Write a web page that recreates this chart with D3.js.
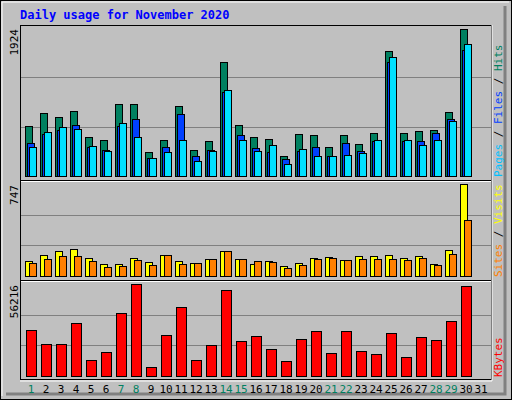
<!DOCTYPE html>
<html><head><meta charset="utf-8">
<script src="https://cdn.jsdelivr.net/npm/d3@7"></script>
<style>body{margin:0;background:#fff}text{font-family:"DejaVu Sans Mono",monospace}</style>
</head><body><div id="chart"></div>
<script>
var days = d3.range(1, 32);
var weekend = [1, 7, 8, 14, 15, 21, 22, 28, 29];
var hits  = [650, 819, 767, 845, 507, 468, 936, 936, 312, 468, 910, 338, 455, 1482, 663, 507, 481, 260, 546, 533, 377, 533, 416, 559, 1625, 559, 585, 598, 832, 1911];
var files = [429, 546, 598, 663, 377, 338, 650, 741, 234, 377, 806, 260, 338, 1092, 533, 364, 312, 221, 325, 377, 260, 429, 325, 455, 1482, 455, 455, 559, 741, 1638];
var pages = [377, 572, 637, 611, 390, 325, 689, 507, 234, 312, 468, 195, 325, 1118, 468, 325, 403, 156, 351, 260, 260, 273, 299, 468, 1547, 468, 403, 468, 715, 1716];
var visits = [124, 173, 205, 221, 148, 100, 100, 148, 116, 173, 124, 108, 140, 205, 140, 100, 124, 84, 108, 148, 156, 132, 164, 164, 173, 148, 164, 100, 213, 747];
var sites  = [108, 140, 164, 164, 124, 76, 84, 132, 92, 173, 100, 108, 140, 205, 140, 124, 116, 67, 92, 140, 148, 132, 140, 140, 140, 132, 148, 92, 181, 456];
var kbytes = [28309, 19692, 19692, 32613, 9846, 14769, 38766, 56011, 5538, 25232, 42459, 9846, 19077, 52318, 21538, 24616, 16615, 9231, 22770, 27694, 14154, 27694, 15385, 13539, 26463, 11693, 24000, 22154, 33844, 54780];
var yTicks = {top: 1924, mid: 747, bot: 56216};

var width = 512, height = 400;
var svg = d3.select("#chart").append("svg").attr("width", width).attr("height", height);

// outer frame
svg.append("rect").attr("x", 0.5).attr("y", 0.5).attr("width", 511).attr("height", 399)
    .attr("fill", "#c0c0c0").attr("stroke", "#000");
svg.append("path").attr("d", "M505,6 L505,394 L6,394").attr("fill", "none").attr("stroke", "#808080").attr("stroke-width", 3);
svg.append("path").attr("d", "M2,396 L2,2 L509,2").attr("fill", "none").attr("stroke", "#fff").attr("stroke-width", 1);

svg.append("text").attr("x", 20).attr("y", 19).attr("fill", "#0000ff")
    .attr("font-size", 12).attr("font-weight", "bold").text("Daily usage for November 2020");

var x = d3.scaleLinear().domain([1, 2]).range([25, 40]);

// panel frame
svg.append("rect").attr("x", 20.5).attr("y", 25.5).attr("width", 471).attr("height", 354)
    .attr("fill", "none").attr("stroke", "#000");
svg.append("path").attr("d", "M492,25 L492,381 L20,381").attr("fill", "none").attr("stroke", "#fff");
[180, 280].forEach(function(y) {
    svg.append("line").attr("x1", 21).attr("x2", 491).attr("y1", y + 0.5).attr("y2", y + 0.5).attr("stroke", "#000");
    svg.append("line").attr("x1", 21).attr("x2", 491).attr("y1", y + 1.5).attr("y2", y + 1.5).attr("stroke", "#fff");
});

function panel(top, base, max, series, label, legend) {
    var y = d3.scaleLinear().domain([0, max]).range([base, top]);
    var g = svg.append("g");
    [max / 3, max * 2 / 3].forEach(function(v) {
        g.append("line").attr("x1", 21).attr("x2", 491)
            .attr("y1", Math.round(y(v)) + 0.5).attr("y2", Math.round(y(v)) + 0.5)
            .attr("stroke", "#808080");
    });
    series.forEach(function(s) {
        g.selectAll(null).data(s.data).enter().append("rect")
            .attr("x", function(d, i) { return x(i + 1) + s.off + 0.5; })
            .attr("y", function(d) { return Math.round(y(d)) + 0.5; })
            .attr("width", s.w)
            .attr("height", function(d) { return base - Math.round(y(d)); })
            .attr("fill", s.color).attr("stroke", "#000");
    });
    svg.append("text").attr("transform", "translate(18," + (top + 1) + ") rotate(-90)")
        .attr("text-anchor", "end").attr("font-size", 11).attr("fill", "#000").text(label);
    var t = svg.append("text").attr("transform", "translate(502," + (base + 1) + ") rotate(-90)")
        .attr("font-size", 11);
    legend.forEach(function(p) { t.append("tspan").attr("fill", p[1]).text(p[0]); });
}

panel(28, 176, yTicks.top, [
    {data: hits, color: "#008060", off: 0, w: 7},
    {data: files, color: "#0040ff", off: 2, w: 7},
    {data: pages, color: "#00e0ff", off: 4, w: 7}
], "1924", [["Pages", "#00c0ff"], [" / ", "#000"], ["Files", "#0040ff"], [" / ", "#000"], ["Hits", "#008060"]]);

panel(184, 276, yTicks.mid, [
    {data: visits, color: "#ffff00", off: 0, w: 7},
    {data: sites, color: "#ff8000", off: 4, w: 7}
], "747", [["Sites", "#ff8000"], [" / ", "#000"], ["Visits", "#ffff00"]]);

panel(284, 376, yTicks.bot, [
    {data: kbytes, color: "#ff0000", off: 1, w: 10}
], "56216", [["KBytes", "#ff0000"]]);

svg.selectAll("text.day").data(days).enter().append("text")
    .attr("class", "day")
    .attr("x", function(d) { return x(d) + 6; }).attr("y", 393)
    .attr("text-anchor", "middle").attr("font-size", 11)
    .attr("fill", function(d) { return weekend.indexOf(d) >= 0 ? "#008060" : "#000"; })
    .text(function(d) { return d; });
</script></body></html>
